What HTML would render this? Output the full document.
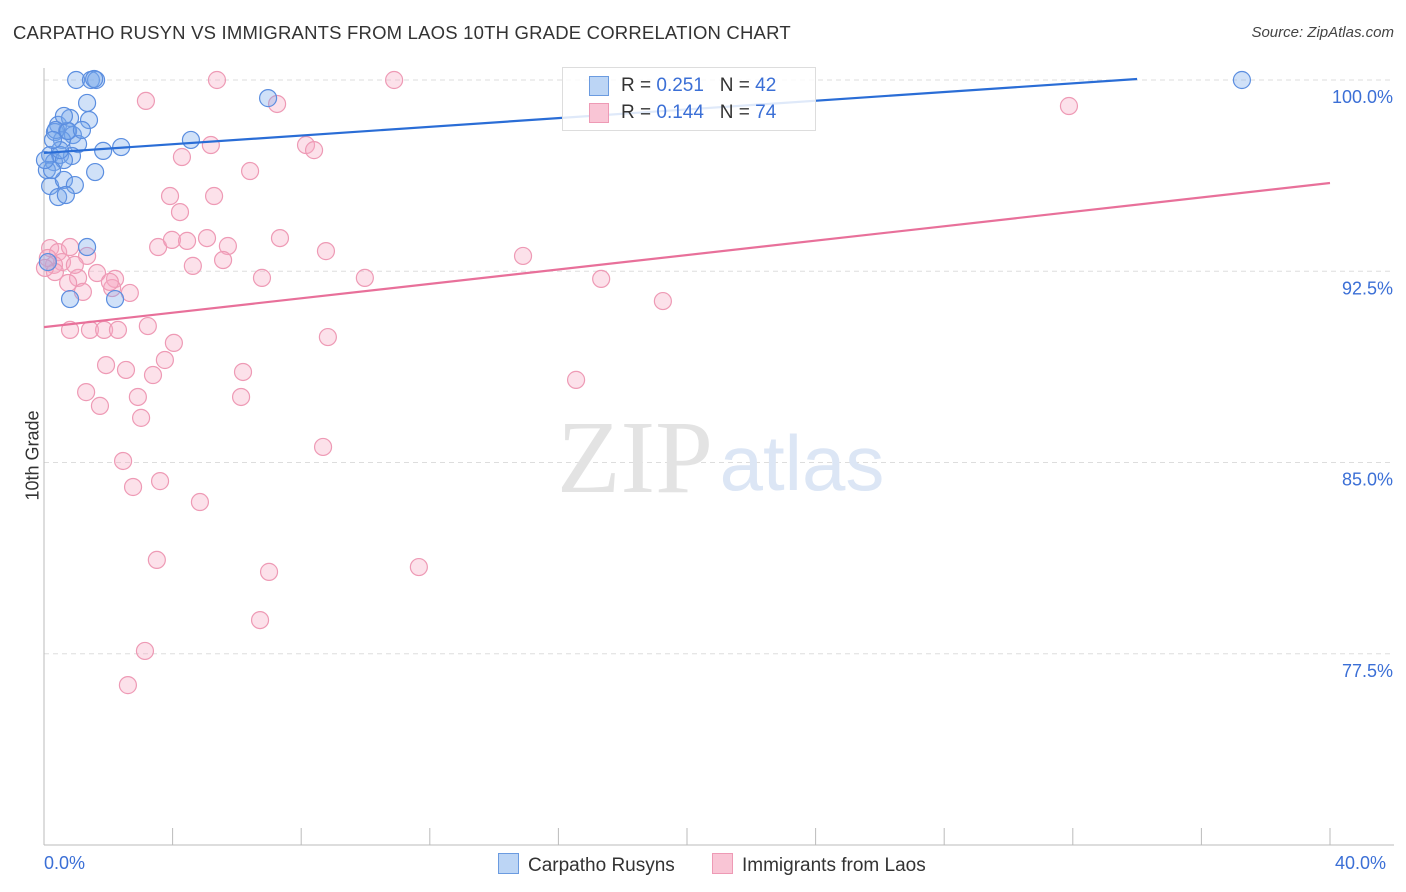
<!DOCTYPE html>
<html><head><meta charset="utf-8"><style>
body{margin:0;background:#fff;font-family:"Liberation Sans",sans-serif}
#wrap{position:relative;width:1406px;height:892px}
.t{position:absolute;white-space:nowrap}
</style></head><body>
<div id="wrap">
<div class="t" style="left:13px;top:22px;font-size:18.5px;color:#333;letter-spacing:0.2px">CARPATHO RUSYN VS IMMIGRANTS FROM LAOS 10TH GRADE CORRELATION CHART</div>
<div class="t" style="right:12px;top:24px;font-size:15px;color:#444;font-style:italic">Source: ZipAtlas.com</div>
<svg id="svg" width="1406" height="892" style="position:absolute;left:0;top:0"></svg>
</div>
<script>
const blueX=[1.0,1.46,1.62,1.56,1.34,0.44,0.81,1.4,0.34,0.72,0.9,0.56,1.06,0.19,0.5,0.31,0.87,0.62,1.84,2.4,1.59,4.57,6.97,0.19,0.62,0.96,0.44,0.68,1.34,0.81,2.21,37.26,0.09,0.25,0.12,0.37,0.75,0.62,0.03,0.5,1.18,0.28];
const blueY=[100,100,100,100.04,99.1,98.24,98.51,98.43,97.96,98.0,97.84,97.65,97.49,97.06,97.06,96.78,97.02,96.86,97.22,97.37,96.39,97.65,99.29,95.84,96.08,95.88,95.41,95.49,93.45,91.41,91.41,100,96.47,96.47,92.86,98.04,98.0,98.59,96.86,97.25,98.04,97.65];
const pinkX=[5.38,10.89,3.17,7.25,31.88,8.15,8.4,5.19,4.29,6.41,3.92,5.29,4.23,3.55,3.98,4.45,5.07,5.72,7.34,8.77,4.63,5.57,6.78,9.98,14.9,17.33,19.25,0.19,0.44,0.81,0.56,0.31,1.06,0.75,1.21,1.65,2.21,2.12,2.67,1.34,0.34,0.81,1.43,1.87,2.3,3.23,4.04,8.83,3.76,1.93,2.55,3.39,6.19,16.55,1.31,1.74,2.92,6.13,3.02,8.68,2.46,2.77,3.61,4.85,3.51,7.0,11.66,6.72,3.14,2.61,0.12,0.96,2.05,0.03];
const pinkY=[100,100,99.18,99.06,98.98,97.45,97.25,97.45,96.98,96.43,95.45,95.45,94.82,93.45,93.73,93.69,93.8,93.49,93.8,93.29,92.71,92.94,92.24,92.24,93.1,92.2,91.33,93.41,93.25,93.45,92.86,92.75,92.24,92.04,91.69,92.43,92.2,91.84,91.65,93.1,92.47,90.2,90.2,90.2,90.2,90.35,89.69,89.92,89.02,88.82,88.63,88.43,88.55,88.24,87.76,87.22,87.57,87.57,86.75,85.61,85.06,84.04,84.27,83.45,81.18,80.71,80.9,78.82,77.61,76.27,93.02,92.75,92.08,92.63];
const blueLine=[[0,97.14],[34,100.04]];
const pinkLine=[[0,90.31],[40,95.96]];
const yTicks=[100,92.5,85,77.5];
const yTickLabels=["100.0%","92.5%","85.0%","77.5%"];
const xTicks=[0,4,8,12,16,20,24,28,32,36,40];

const sx=v=>44+v*32.15, sy=v=>80+(100-v)*25.5;
const svg=document.getElementById('svg');
const NS='http://www.w3.org/2000/svg';
function mk(t,a,p){const e=document.createElementNS(NS,t);for(const k in a)e.setAttribute(k,a[k]);(p||svg).appendChild(e);return e;}

yTicks.forEach((v,i)=>{
 const g=mk('line',{x1:44,x2:1394,y1:sy(v),y2:sy(v),stroke:'#ddd','stroke-dasharray':'5,4'});
 
 
 const t=mk('text',{x:1393,y:sy(v)+23,'text-anchor':'end','font-size':18,fill:'#3b6fd6','font-family':'Liberation Sans'});
 t.textContent=yTickLabels[i];
 
 
});
let ax=mk('line',{x1:44,x2:44,y1:68,y2:845,stroke:'#bbb'});


ax=mk('line',{x1:44,x2:1394,y1:845,y2:845,stroke:'#bbb'});


xTicks.forEach(v=>{
 const l=mk('line',{x1:sx(v),x2:sx(v),y1:828,y2:845,stroke:'#bbb'});
 
 
});
let wm=mk('text',{x:635,y:492,'text-anchor':'middle','font-size':104,fill:'#e3e3e3','font-family':'Liberation Serif'});wm.textContent='ZIP';


wm=mk('text',{x:802,y:490,'text-anchor':'middle','font-size':78,fill:'#dce6f5','font-family':'Liberation Sans'});wm.textContent='atlas';



function pts(X,Y,fill,stroke,name){X.forEach((x,i)=>{
 const c=mk('circle',{cx:sx(x),cy:sy(Y[i]),r:8.5,fill:fill,stroke:stroke,'stroke-width':1.2});
 
 
});}
pts(pinkX,pinkY,'rgba(246,170,195,0.35)','#ee9ab5','pink-point');
pts(blueX,blueY,'rgba(120,170,235,0.35)','#5b8ee0','blue-point');
let ln=mk('line',{x1:sx(blueLine[0][0]),y1:sy(blueLine[0][1]),x2:sx(blueLine[1][0]),y2:sy(blueLine[1][1]),stroke:'#2a6dd6','stroke-width':2.2});


ln=mk('line',{x1:sx(pinkLine[0][0]),y1:sy(pinkLine[0][1]),x2:sx(pinkLine[1][0]),y2:sy(pinkLine[1][1]),stroke:'#e8709a','stroke-width':2.2});


</script>
<div class="t" style="left:-12px;top:445px;font-size:18px;color:#333;transform:rotate(-90deg)">10th Grade</div>
<div class="t" style="left:44px;top:853px;font-size:18px;color:#3b6fd6">0.0%</div>
<div class="t" style="left:1335px;top:853px;font-size:18px;color:#3b6fd6">40.0%</div>
<div style="position:absolute;left:562px;top:67px;width:252px;height:62px;border:1px solid #ddd;background:rgba(255,255,255,0.85);font-size:19px;color:#333">
 <div style="position:absolute;left:26px;top:8px;width:18px;height:18px;background:#bcd5f5;border:1px solid #6b9be0"></div>
 <div class="t" style="left:58px;top:7px">R = <span style="color:#3b6fd6">0.251</span>&nbsp;&nbsp;&nbsp;N = <span style="color:#3b6fd6">42</span></div>
 <div style="position:absolute;left:26px;top:35px;width:18px;height:18px;background:#f9c5d5;border:1px solid #ee9ab5"></div>
 <div class="t" style="left:58px;top:34px">R = <span style="color:#3b6fd6">0.144</span>&nbsp;&nbsp;&nbsp;N = <span style="color:#3b6fd6">74</span></div>
</div>
<div style="position:absolute;left:498px;top:853px;font-size:19px;color:#333">
 <span style="display:inline-block;width:19px;height:19px;background:#bcd5f5;border:1px solid #6b9be0;vertical-align:-3px;margin-right:9px"></span>Carpatho Rusyns</div>
<div style="position:absolute;left:712px;top:853px;font-size:19px;color:#333">
 <span style="display:inline-block;width:19px;height:19px;background:#f9c5d5;border:1px solid #ee9ab5;vertical-align:-3px;margin-right:9px"></span>Immigrants from Laos</div>
</body></html>
